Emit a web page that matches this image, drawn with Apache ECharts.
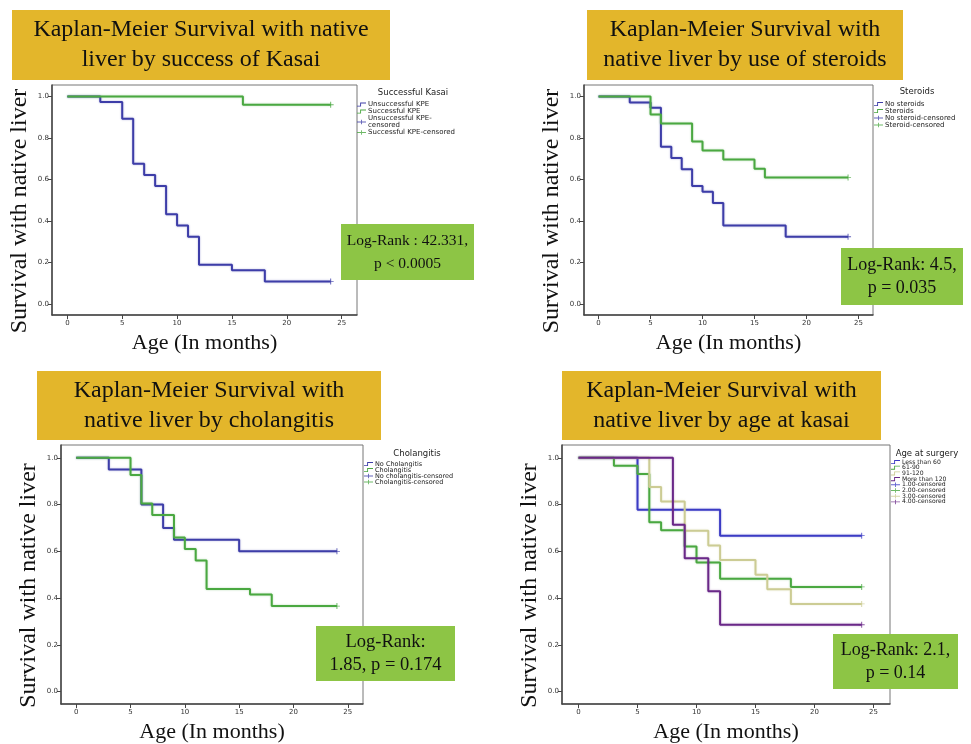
<!DOCTYPE html>
<html>
<head>
<meta charset="utf-8">
<script src="https://cdn.jsdelivr.net/npm/echarts@6/dist/echarts.min.js"></script>
<style>
html,body{margin:0;padding:0;background:#fff;}
#chart{width:971px;height:744px;}
</style>
</head>
<body>
<div id="chart"></div>
<script>
// ---- tick labels ----
const xTicks = [0, 5, 10, 15, 20, 25];
const yTicks = [0, 0.2, 0.4, 0.6, 0.8, 1.0];

// ---- Panel 1: success of Kasai ----
const kasaiGroups = ['Unsuccessful KPE', 'Successful KPE'];
const kasaiUnsuccX = [0, 3, 5, 6, 7, 8, 9, 10, 11, 12, 15, 18, 24];
const kasaiUnsuccY = [1, 0.973, 0.892, 0.676, 0.622, 0.568, 0.432, 0.378, 0.324, 0.189, 0.162, 0.108, 0.108];
const kasaiSuccX = [0, 16, 24];
const kasaiSuccY = [1, 0.96, 0.96];

// ---- Panel 2: steroids ----
const steroidGroups = ['No steroids', 'Steroids'];
const noSteroidX = [0, 3, 5, 6, 7, 8, 9, 10, 11, 12, 18, 24];
const noSteroidY = [1, 0.971, 0.946, 0.757, 0.703, 0.649, 0.568, 0.541, 0.486, 0.378, 0.324, 0.324];
const steroidX = [0, 5, 6, 9, 10, 12, 15, 16, 24];
const steroidY = [1, 0.913, 0.870, 0.783, 0.739, 0.696, 0.652, 0.609, 0.609];

// ---- Panel 3: cholangitis ----
const cholGroups = ['No Cholangitis', 'Cholangitis'];
const noCholX = [0, 3, 6, 8, 9, 15, 24];
const noCholY = [1, 0.95, 0.80, 0.70, 0.65, 0.60, 0.60];
const cholX = [0, 5, 6, 7, 9, 10, 11, 12, 16, 18, 24];
const cholY = [1, 0.927, 0.805, 0.756, 0.659, 0.610, 0.561, 0.439, 0.415, 0.366, 0.366];

// ---- Panel 4: age at kasai ----
const ageGroups = ['Less than 60', '61-90', '91-120', 'More than 120'];
const ageLt60X = [0, 5, 12, 24];
const ageLt60Y = [1, 0.778, 0.667, 0.667];
const age61X = [0, 3, 5, 6, 7, 9, 10, 12, 18, 24];
const age61Y = [1, 0.966, 0.931, 0.724, 0.690, 0.621, 0.552, 0.483, 0.448, 0.448];
const age91X = [0, 6, 7, 9, 11, 12, 15, 16, 18, 24];
const age91Y = [1, 0.875, 0.813, 0.688, 0.625, 0.563, 0.500, 0.438, 0.375, 0.375];
const ageGt120X = [0, 8, 9, 11, 12, 24];
const ageGt120Y = [1, 0.714, 0.571, 0.429, 0.286, 0.286];

// ---- texts ----
const panelTitles = [
  'Kaplan-Meier Survival with native\nliver by success of Kasai',
  'Kaplan-Meier Survival with\nnative liver by use of steroids',
  'Kaplan-Meier Survival with\nnative liver by cholangitis',
  'Kaplan-Meier Survival with\nnative liver by age at kasai'
];
const logRankTexts = [
  'Log-Rank : 42.331,\np < 0.0005',
  'Log-Rank: 4.5,\np = 0.035',
  'Log-Rank:\n1.85, p = 0.174',
  'Log-Rank: 2.1,\np = 0.14'
];
const legendTitles = ['Successful Kasai', 'Steroids', 'Cholangitis', 'Age at surgery'];
const censoredNames = [
  ['Unsuccessful KPE-censored', 'Successful KPE-censored'],
  ['No steroid-censored', 'Steroid-censored'],
  ['No cholangitis-censored', 'Cholangitis-censored'],
  ['1.00-censored', '2.00-censored', '3.00-censored', '4.00-censored']
];
const xName = 'Age (In months)';
const yName = 'Survival with native liver';

// ---- styling ----
const BLUE = '#3d3da8', GREEN = '#4aa841', TAN = '#cccc94', PURPLE = '#6a2888', BLUE4 = '#3b3bc4';
const SERIF = '"Liberation Serif", "Times New Roman", serif';
const SANS = '"DejaVu Sans", "Liberation Sans", sans-serif';
const STEP_ICON = 'path://M0,8 L7,8 L7,1 L20,1 L20,3 L9,3 L9,10 L0,10 Z';
const PLUS_ICON = 'path://M0,4 L20,4 L20,6 L0,6 Z M9,0 L11,0 L11,10 L9,10 Z';
const CENS_SYM = 'path://M0,4.3 L10,4.3 L10,5.7 L0,5.7 Z M4.2,0 L5.8,0 L5.8,10 L4.2,10 Z';

const zip = (xs, ys) => xs.map((x, i) => [x, ys[i]]);

const panels = [
  { grid: {left: 52, top: 85, width: 305, height: 230},
    groups: kasaiGroups, xs: [kasaiUnsuccX, kasaiSuccX], ys: [kasaiUnsuccY, kasaiSuccY], colors: [BLUE, GREEN],
    legend: {left: 357, top: 101, fontSize: 7, gap: 0},
    legendTitle: [413, 93], titleBox: [12, 10, 378, 70], lrBox: [341, 224, 133, 56], lrFont: 15.5 },
  { grid: {left: 584, top: 85, width: 289, height: 230},
    groups: steroidGroups, xs: [noSteroidX, steroidX], ys: [noSteroidY, steroidY], colors: [BLUE, GREEN],
    legend: {left: 874, top: 100.5, fontSize: 7, gap: 0},
    legendTitle: [917, 92], titleBox: [587, 10, 316, 70], lrBox: [841, 248, 122, 57], lrFont: 18 },
  { grid: {left: 61, top: 445, width: 302, height: 261},
    groups: cholGroups, xs: [noCholX, cholX], ys: [noCholY, cholY], colors: [BLUE, GREEN],
    legend: {left: 364, top: 460.5, fontSize: 6.5, gap: -1},
    legendTitle: [417, 454], titleBox: [37, 371, 344, 69], lrBox: [316, 626, 139, 55], lrFont: 18.5 },
  { grid: {left: 562, top: 445, width: 328, height: 261},
    groups: ageGroups, xs: [ageLt60X, age61X, age91X, ageGt120X], ys: [ageLt60Y, age61Y, age91Y, ageGt120Y],
    colors: [BLUE4, GREEN, TAN, PURPLE],
    legend: {left: 891, top: 458.5, fontSize: 6.1, gap: -1.3},
    legendTitle: [927, 454], titleBox: [562, 371, 319, 69], lrBox: [833, 634, 125, 55], lrFont: 18 }
];

const grids = [], xAxes = [], yAxes = [], series = [], legends = [], graphics = [];

panels.forEach((p, i) => {
  grids.push(Object.assign({show: true, borderColor: '#777', borderWidth: 1, backgroundColor: 'transparent'}, p.grid));
  xAxes.push({
    type: 'value', gridIndex: i, min: -1.4, max: 26.4,
    axisLine: {show: true, onZero: false, lineStyle: {color: '#444', width: 1.5}},
    axisTick: {show: true, customValues: xTicks, length: 4, lineStyle: {color: '#444', width: 1}},
    axisLabel: {customValues: xTicks, fontSize: 7, color: '#333', margin: 5, fontFamily: SANS},
    splitLine: {show: false},
    name: xName, nameLocation: 'middle', nameGap: 17,
    nameTextStyle: {fontFamily: SERIF, fontSize: 22, color: '#111'}
  });
  yAxes.push({
    type: 'value', gridIndex: i, min: -0.053, max: 1.055,
    axisLine: {show: true, onZero: false, lineStyle: {color: '#444', width: 1.5}},
    axisTick: {show: true, customValues: yTicks, length: 4, lineStyle: {color: '#444', width: 1}},
    axisLabel: {customValues: yTicks, fontSize: 7, color: '#333', margin: 3, fontFamily: SANS,
                formatter: v => v.toFixed(1)},
    splitLine: {show: false},
    name: yName, nameLocation: 'middle', nameGap: 20, nameRotate: 90,
    nameTextStyle: {fontFamily: SERIF, fontSize: 24, color: '#111', padding: [0, 22, 0, 0]}
  });
  const legendData = [];
  p.groups.forEach((g, k) => {
    series.push({
      type: 'line', name: g, xAxisIndex: i, yAxisIndex: i, step: 'end',
      data: zip(p.xs[k], p.ys[k]), showSymbol: false, symbol: 'none',
      color: p.colors[k],
      lineStyle: {color: p.colors[k], width: 2, shadowColor: p.colors[k] + '66', shadowBlur: 2},
      z: 3
    });
    legendData.push({name: g, icon: STEP_ICON});
  });
  p.groups.forEach((g, k) => {
    const xs = p.xs[k], ys = p.ys[k];
    series.push({
      type: 'scatter', name: censoredNames[i][k], xAxisIndex: i, yAxisIndex: i,
      data: [[xs[xs.length - 1], ys[ys.length - 1]]],
      symbol: CENS_SYM, symbolSize: 6, color: p.colors[k], z: 4
    });
    legendData.push({name: censoredNames[i][k], icon: PLUS_ICON});
  });
  legends.push({
    orient: 'vertical', left: p.legend.left, top: p.legend.top, padding: 0,
    itemWidth: 9, itemHeight: 4.5, itemGap: p.legend.gap, selectedMode: false,
    itemStyle: {borderWidth: 0},
    textStyle: {fontFamily: SANS, fontSize: p.legend.fontSize, lineHeight: 7, color: '#222', padding: [0, 0, 0, -3]},
    formatter: n => (n === 'Unsuccessful KPE-censored' ? 'Unsuccessful KPE-\ncensored' : n),
    data: legendData
  });
  // legend header
  graphics.push({type: 'text', x: p.legendTitle[0], y: p.legendTitle[1], z: 100,
    style: {text: legendTitles[i], fontFamily: SANS, fontSize: 8.5, fill: '#222', align: 'center', verticalAlign: 'middle'}});
  // title box
  const tb = p.titleBox;
  graphics.push({type: 'rect', shape: {x: tb[0], y: tb[1], width: tb[2], height: tb[3]}, z: 100,
    style: {fill: '#E3B62B'}});
  graphics.push({type: 'text', x: tb[0] + tb[2] / 2, y: tb[1] + tb[3] / 2, z: 101,
    style: {text: panelTitles[i], fontFamily: SERIF, fontSize: 24, lineHeight: 30, fill: '#111', align: 'center', verticalAlign: 'middle'}});
  // log-rank box
  const lb = p.lrBox;
  graphics.push({type: 'rect', shape: {x: lb[0], y: lb[1], width: lb[2], height: lb[3]}, z: 100,
    style: {fill: '#8DC545'}});
  graphics.push({type: 'text', x: lb[0] + lb[2] / 2, y: lb[1] + lb[3] / 2, z: 101,
    style: {text: logRankTexts[i], fontFamily: SERIF, fontSize: p.lrFont, lineHeight: 23, fill: '#111', align: 'center', verticalAlign: 'middle'}});
});

const chart = echarts.init(document.getElementById('chart'), null, {renderer: 'canvas'});
chart.setOption({
  animation: false,
  backgroundColor: '#fff',
  grid: grids, xAxis: xAxes, yAxis: yAxes, series: series, legend: legends,
  graphic: graphics
});
</script>
</body>
</html>
